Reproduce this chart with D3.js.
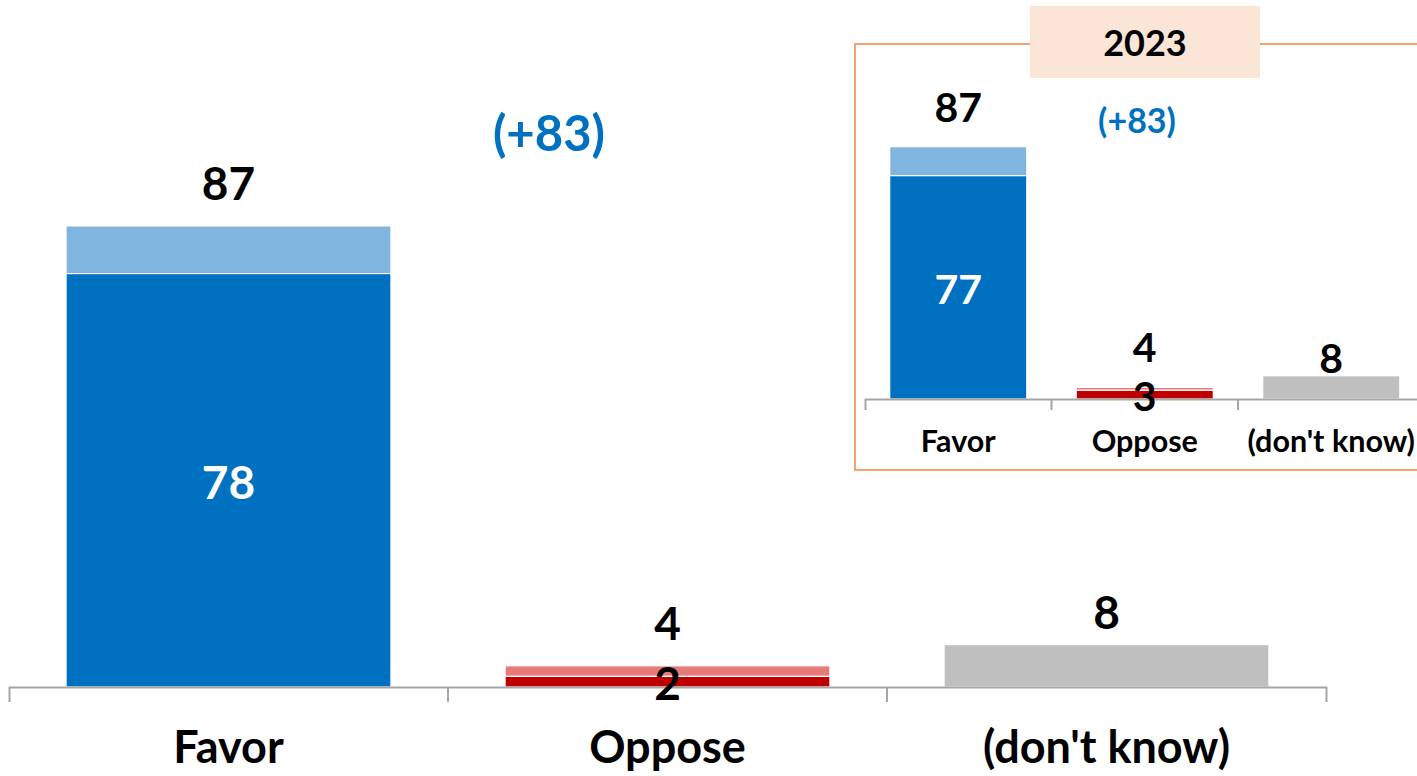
<!DOCTYPE html>
<html>
<head>
<meta charset="utf-8">
<script src="https://cdn.jsdelivr.net/npm/d3@7"></script>
<style>
  body { margin: 0; background: #fff; }
  svg text { font-family: Lato, "Open Sans", sans-serif; font-weight: 700; }
</style>
</head>
<body>
<div id="chart"></div>
<script>
// data
var categories = ["Favor", "Oppose", "(don't know)"];
var strongNow = [78, 2, 8];
var totalNow = [87, 4, 8];
var strong2023 = [77, 3, 8];
var total2023 = [87, 4, 8];
var netNow = "(+83)";
var net2023 = "(+83)";
var insetTitle = "2023";

var darkColors = ["#0070C0", "#C00000", "#BFBFBF"];
var lightColors = ["#7FB5DF", "#E67A78", "#BFBFBF"];

var svg = d3.select("#chart").append("svg")
    .attr("width", 1417)
    .attr("height", 776);

function makeRows(strong, total) {
  return categories.map(function(c, i) {
    return { cat: c, i: i, strong: strong[i], total: total[i] };
  });
}

function drawPanel(g, rows, o) {
  var x = d3.scaleBand().domain(categories).range(o.xr).padding(0);
  var y = d3.scaleLinear().domain([0, 100]).range([o.base, o.base - o.unit * 100]);
  var bw = x.bandwidth() * o.barFrac;
  var off = (x.bandwidth() - bw) / 2;

  // light top part (total - strong)
  g.selectAll(".light").data(rows.filter(function(d) { return d.total > d.strong; }))
    .enter().append("rect")
      .attr("x", function(d) { return x(d.cat) + off; })
      .attr("width", bw)
      .attr("y", function(d) { return y(d.total); })
      .attr("height", function(d) { return y(d.strong) - y(d.total); })
      .attr("fill", function(d) { return lightColors[d.i]; })
      .attr("stroke", "#fff").attr("stroke-width", 1.2);

  g.selectAll(".dark").data(rows)
    .enter().append("rect")
      .attr("x", function(d) { return x(d.cat) + off; })
      .attr("width", bw)
      .attr("y", function(d) { return y(d.strong); })
      .attr("height", function(d) { return y(0) - y(d.strong); })
      .attr("fill", function(d) { return darkColors[d.i]; })
      .attr("stroke", "#fff").attr("stroke-width", 1.2);

  // axis
  var ax = g.append("g")
      .attr("transform", "translate(0," + o.base + ")")
      .call(d3.axisBottom(x).tickSize(0).tickSizeOuter(o.tick));
  ax.select(".domain").attr("stroke", "#A6A6A6").attr("stroke-width", 2);
  ax.selectAll(".tick text")
      .attr("y", o.catY).attr("dy", null)
      .attr("fill", "#000")
      .style("font-size", o.catSize + "px");
  ax.selectAll(".sep").data(categories.slice(1))
    .enter().append("line")
      .attr("x1", function(d) { return x(d); })
      .attr("x2", function(d) { return x(d); })
      .attr("y1", 0).attr("y2", o.tick)
      .attr("stroke", "#A6A6A6").attr("stroke-width", 2);

  // total labels above
  g.selectAll(".tot").data(rows)
    .enter().append("text")
      .attr("text-anchor", "middle")
      .attr("x", function(d) { return x(d.cat) + x.bandwidth() / 2; })
      .attr("y", function(d) { return y(d.total) - (d.total > d.strong ? o.gap : o.gapDk); })
      .style("font-size", o.numSize + "px")
      .attr("fill", "#000")
      .text(function(d) { return d.total; });

  // strong labels inside (centered on the dark part)
  g.selectAll(".str").data(rows.filter(function(d) { return d.total > d.strong; }))
    .enter().append("text")
      .attr("text-anchor", "middle")
      .attr("x", function(d) { return x(d.cat) + x.bandwidth() / 2; })
      .attr("y", function(d) { return (y(d.strong) + y(0)) / 2 + 2; })
      .attr("dy", "0.36em")
      .style("font-size", o.numSize + "px")
      .attr("fill", function(d) { return d.strong > 20 ? "#fff" : "#000"; })
      .text(function(d) { return d.strong; });

  return x;
}

// inset frame
var inset = svg.append("g");
inset.append("rect")
    .attr("x", 855).attr("y", 44).attr("width", 620).attr("height", 426)
    .attr("fill", "none").attr("stroke", "#F5A26E").attr("stroke-width", 2);
inset.append("rect")
    .attr("x", 1030).attr("y", 6).attr("width", 230).attr("height", 72)
    .attr("fill", "#FBE5D6");
inset.append("text")
    .attr("x", 1145).attr("y", 56).attr("text-anchor", "middle")
    .style("font-size", "36px").attr("fill", "#000")
    .text(insetTitle);

var xi = drawPanel(inset, makeRows(strong2023, total2023), {
  xr: [865, 865 + 186.5 * 3], base: 399, unit: 2.9, barFrac: 0.735, tick: 11,
  catY: 53, catSize: 30.5, numSize: 41, gap: 25, gapDk: 3
});
inset.append("text")
    .attr("x", 1137).attr("y", 133).attr("text-anchor", "middle")
    .style("font-size", "34px").attr("fill", "#0070C0")
    .text(net2023);

// main chart
var main = svg.append("g");
var xm = drawPanel(main, makeRows(strongNow, totalNow), {
  xr: [9, 1326], base: 687, unit: 5.3, barFrac: 0.74, tick: 15,
  catY: 76, catSize: 45, numSize: 46, gap: 26, gapDk: 16
});
main.append("text")
    .attr("x", 549).attr("y", 151).attr("text-anchor", "middle")
    .style("font-size", "49px").attr("fill", "#0070C0")
    .text(netNow);
</script>
</body>
</html>
